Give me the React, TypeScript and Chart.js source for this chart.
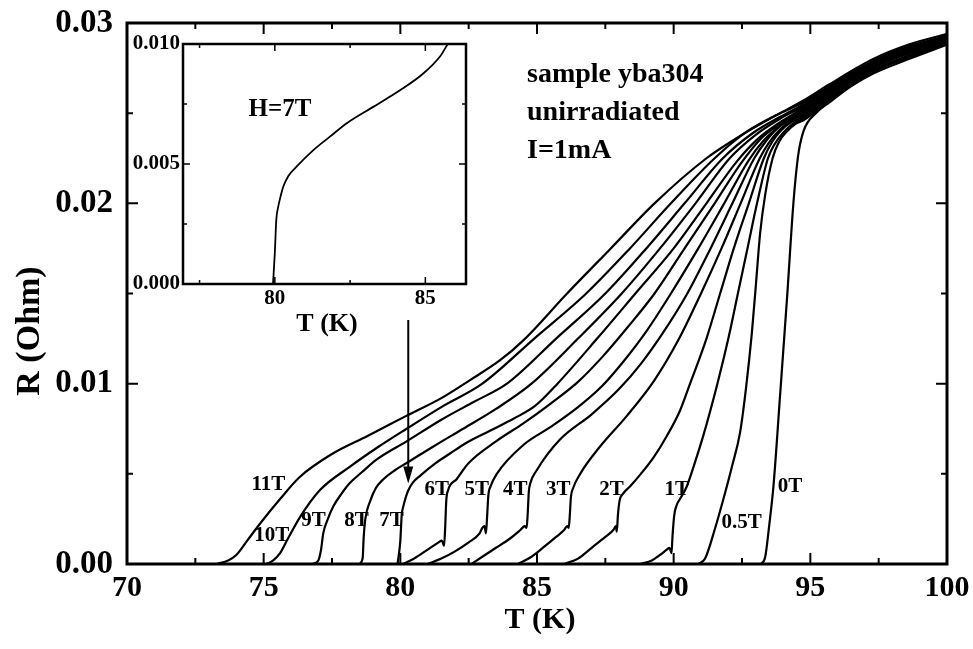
import React, { useEffect, useRef } from "react";
import { Chart, registerables } from "chart.js";

Chart.register(...registerables);

// ---------- axes ----------
const X_TICKS = [70, 75, 80, 85, 90, 95, 100];
const X_MINOR = [72.5, 77.5, 82.5, 87.5, 92.5, 97.5];
const Y_TICKS = [0, 0.01, 0.02, 0.03];
const Y_MINOR = [0.005, 0.015, 0.025];

const INSET_X_TICKS = [80, 85];
const INSET_X_MINOR = [77.5, 82.5];
const INSET_Y_TICKS = [0, 0.005, 0.01];
const INSET_Y_MINOR = [0.0025, 0.0075];

// ---------- curves: T (K) and R (Ohm) ----------
const T_11T = [73.3, 73.7, 74.0, 74.4, 74.9, 75.6, 76.3, 77.5, 78.8, 80.2, 81.5, 82.55, 83.65, 84.5, 86.1, 87.7, 89.3, 91.2, 92.5, 93.65, 94.75, 95.7, 97.3, 98.6, 100];
const R_11T = [0, 0.0002, 0.0005, 0.0013, 0.0023, 0.0036, 0.0048, 0.0061, 0.0071, 0.0082, 0.0092, 0.0102, 0.0113, 0.0124, 0.015, 0.0175, 0.02, 0.0225, 0.0238, 0.0248, 0.0257, 0.0266, 0.028, 0.0288, 0.0294];

const T_10T = [75.1, 75.35, 75.6, 75.85, 76.33, 77.06, 78.16, 79.2, 80.23, 81.5, 83.0, 84.9, 86.8, 88.4, 89.9, 91.5, 92.7, 93.9, 94.75, 95.7, 97.3, 98.6, 100];
const R_10T = [0, 0.0002, 0.0006, 0.0013, 0.0026, 0.0041, 0.0054, 0.0065, 0.0075, 0.0087, 0.01, 0.0125, 0.015, 0.0175, 0.02, 0.0225, 0.024, 0.025, 0.0256, 0.0265, 0.0279, 0.0287, 0.0293];

const T_9T = [76.8, 77.0, 77.1, 77.18, 77.35, 77.55, 77.85, 78.16, 78.6, 79.14, 80.23, 81.5, 82.7, 83.9, 85.7, 87.5, 89.0, 90.4, 91.8, 92.9, 93.9, 94.75, 95.7, 97.3, 98.6, 100];
const R_9T = [0, 0.0002, 0.0008, 0.0017, 0.0025, 0.0032, 0.0039, 0.0045, 0.0051, 0.0058, 0.0068, 0.008, 0.009, 0.01, 0.0125, 0.015, 0.0175, 0.02, 0.0225, 0.0239, 0.0248, 0.0255, 0.0265, 0.0278, 0.0286, 0.0293];

const T_8T = [78.5, 78.62, 78.66, 78.72, 78.9, 79.1, 79.38, 79.8, 80.23, 81.3, 82.3, 83.5, 84.8, 86.5, 88.1, 89.5, 90.8, 92.05, 93.0, 93.9, 94.75, 95.7, 97.3, 98.6, 100];
const R_8T = [0, 0.0003, 0.0015, 0.0025, 0.0035, 0.0042, 0.0047, 0.0052, 0.0056, 0.0066, 0.0075, 0.0086, 0.01, 0.0125, 0.015, 0.0175, 0.02, 0.0225, 0.0238, 0.0247, 0.0254, 0.0264, 0.0278, 0.0286, 0.0292];

const T_7T = [79.9, 80.0, 80.05, 80.11, 80.2, 80.28, 80.45, 80.72, 81.28, 81.83, 82.39, 83.28, 84.17, 84.94, 85.75, 87.2, 88.6, 90.0, 91.2, 92.3, 93.1, 93.9, 94.75, 95.7, 97.3, 98.6, 100];
const R_7T = [0, 0.0013, 0.0027, 0.0032, 0.0037, 0.00405, 0.0045, 0.00489, 0.00558, 0.00614, 0.0067, 0.00739, 0.00808, 0.00878, 0.01, 0.0125, 0.015, 0.0175, 0.02, 0.0223, 0.0236, 0.0245, 0.0253, 0.0264, 0.0277, 0.0285, 0.0292];

const T_6T = [80.1, 80.5, 81.0, 81.4, 81.52, 81.6, 81.64, 81.68, 81.75, 82.06, 82.5, 83.5, 84.5, 85.5, 86.5, 87.4, 88.3, 89.3, 90.4, 91.5, 92.5, 93.2, 93.9, 94.75, 95.7, 97.3, 98.6, 100];
const R_6T = [0, 0.0003, 0.0008, 0.0012, 0.0013, 0.001, 0.002, 0.0035, 0.0041, 0.0047, 0.0056, 0.0068, 0.0078, 0.0089, 0.0101, 0.0115, 0.0131, 0.015, 0.0175, 0.02, 0.0223, 0.0236, 0.0244, 0.0252, 0.0263, 0.0277, 0.0285, 0.0292];

const T_5T = [81.0, 81.5, 82.0, 82.5, 82.9, 83.0, 83.08, 83.13, 83.17, 83.22, 83.3, 83.53, 84.5, 85.5, 86.5, 87.4, 88.2, 89.0, 89.9, 90.9, 91.85, 92.75, 93.3, 93.9, 94.75, 95.7, 97.3, 98.6, 100];
const R_5T = [0, 0.0003, 0.0007, 0.0012, 0.0017, 0.002, 0.0021, 0.0017, 0.0025, 0.0038, 0.0043, 0.005, 0.0066, 0.0076, 0.0087, 0.0099, 0.0113, 0.0129, 0.015, 0.0175, 0.02, 0.0224, 0.0235, 0.0243, 0.0251, 0.0262, 0.0276, 0.0284, 0.0291];

const T_4T = [82.6, 83.0, 83.5, 84.0, 84.4, 84.55, 84.62, 84.66, 84.7, 84.76, 84.99, 85.84, 87.0, 88.0, 88.8, 89.6, 90.5, 91.35, 92.15, 92.95, 93.4, 93.9, 94.75, 95.7, 97.3, 98.6, 100];
const R_4T = [0, 0.0004, 0.0009, 0.0014, 0.0019, 0.0021, 0.002, 0.0028, 0.004, 0.0045, 0.0052, 0.0069, 0.0083, 0.0097, 0.0111, 0.0128, 0.015, 0.0175, 0.02, 0.0225, 0.0235, 0.0243, 0.025, 0.0261, 0.0276, 0.0284, 0.0291];

const T_3T = [84.3, 84.8, 85.3, 85.7, 86.0, 86.1, 86.16, 86.2, 86.24, 86.32, 86.58, 87.3, 88.28, 89.3, 90.2, 91.0, 91.75, 92.45, 93.15, 93.5, 93.9, 94.3, 94.75, 95.7, 97.3, 98.6, 100];
const R_3T = [0, 0.0004, 0.001, 0.0015, 0.0019, 0.0021, 0.002, 0.0027, 0.0037, 0.0042, 0.005, 0.0065, 0.0082, 0.0102, 0.0125, 0.015, 0.0175, 0.02, 0.0225, 0.0234, 0.0241, 0.0246, 0.0249, 0.026, 0.0275, 0.0283, 0.029];

const T_2T = [86.0, 86.5, 87.0, 87.5, 87.8, 87.88, 87.92, 87.96, 88.02, 88.15, 88.4, 88.8, 89.26, 89.75, 90.23, 90.6, 91.2, 91.7, 92.2, 92.75, 93.3, 93.6, 93.9, 94.3, 94.75, 95.7, 97.3, 98.6, 100];
const R_2T = [0, 0.0003, 0.0009, 0.0015, 0.0019, 0.0021, 0.0018, 0.0027, 0.0035, 0.0039, 0.0043, 0.005, 0.0059, 0.0071, 0.0085, 0.01, 0.0125, 0.015, 0.0175, 0.02, 0.0225, 0.0234, 0.024, 0.0245, 0.0248, 0.0259, 0.0274, 0.0282, 0.029];

const T_1T = [88.8, 89.2, 89.5, 89.75, 89.85, 89.92, 89.96, 90.02, 90.12, 90.23, 90.48, 90.75, 91.1, 91.6, 92.0, 92.35, 92.7, 93.05, 93.45, 93.7, 94.0, 94.35, 94.75, 95.7, 97.3, 98.6, 100];
const R_1T = [0, 0.0002, 0.0005, 0.0008, 0.0009, 0.0006, 0.0016, 0.0027, 0.0033, 0.0036, 0.0043, 0.0055, 0.0072, 0.01, 0.0125, 0.015, 0.0175, 0.02, 0.0225, 0.0233, 0.0239, 0.0244, 0.0247, 0.0258, 0.0274, 0.0281, 0.0289];

const T_05T = [90.9, 91.15, 91.5, 91.82, 92.15, 92.43, 92.65, 92.86, 93.02, 93.16, 93.35, 93.62, 93.85, 94.15, 94.45, 94.75, 95.7, 97.3, 98.6, 100];
const R_05T = [0, 0.0003, 0.0019, 0.0036, 0.0055, 0.0073, 0.0098, 0.0128, 0.0157, 0.0183, 0.0205, 0.0225, 0.0234, 0.024, 0.0244, 0.0246, 0.0257, 0.0273, 0.0281, 0.0289];

const T_0T = [93.2, 93.35, 93.5, 93.65, 93.9, 94.15, 94.38, 94.55, 94.75, 95.2, 95.7, 96.5, 97.3, 98.6, 100];
const R_0T = [0, 0.0004, 0.0022, 0.0043, 0.0095, 0.0148, 0.02, 0.0226, 0.024, 0.025, 0.0256, 0.0265, 0.0272, 0.028, 0.0288];

// ---------- curve labels ----------
const LABEL_TEXT = ["11T", "10T", "9T", "8T", "7T", "6T", "5T", "4T", "3T", "2T", "1T", "0.5T", "0T"];
const LABEL_T = [75.17, 75.3, 76.82, 78.4, 79.68, 81.33, 82.8, 84.2, 85.78, 87.73, 90.11, 92.49, 94.26];
const LABEL_R = [0.0044, 0.0016, 0.0024, 0.0024, 0.0024, 0.0041, 0.0041, 0.0041, 0.0041, 0.0041, 0.0041, 0.0023, 0.0043];

// ---------- arrow (points at the 7T curve) ----------
const ARROW_T = 80.29;
const ARROW_R = [0.01353, 0.00447];

// ---------- inset: H = 7T ----------
const INSET_T = [79.94, 80.0, 80.05, 80.11, 80.2, 80.28, 80.45, 80.72, 81.28, 81.83, 82.39, 83.28, 84.17, 84.94, 85.5, 85.75, 86.0];
const INSET_R = [0, 0.0013, 0.0027, 0.0032, 0.0037, 0.00405, 0.0045, 0.00489, 0.00558, 0.00614, 0.0067, 0.00739, 0.00808, 0.00878, 0.0095, 0.01, 0.0103];

const NOTE_LINES = ["sample yba304", "unirradiated", "I=1mA"];

const SERIF = '"Liberation Serif", "Times New Roman", Times, serif';

const CURVES: [number[], number[]][] = [
  [T_11T, R_11T], [T_10T, R_10T], [T_9T, R_9T], [T_8T, R_8T], [T_7T, R_7T],
  [T_6T, R_6T], [T_5T, R_5T], [T_4T, R_4T], [T_3T, R_3T], [T_2T, R_2T],
  [T_1T, R_1T], [T_05T, R_05T], [T_0T, R_0T],
];

function pts(t: number[], r: number[]) {
  return t.map((x, i) => ({ x, y: r[i] }));
}

function noPad(s: any) {
  s.paddingTop = 0;
  s.paddingBottom = 0;
  s.paddingLeft = 0;
  s.paddingRight = 0;
}

function framePlugin(id: string, o: any) {
  return {
    id,
    afterDraw(chart: any) {
      const { ctx, chartArea: a, scales } = chart;
      const x = scales.x, y = scales.y;
      ctx.save();
      ctx.strokeStyle = "#000";
      ctx.lineCap = "butt";
      ctx.lineWidth = o.tickW;
      const vt = (vals: number[], len: number) => {
        vals.forEach((v) => {
          const px = x.getPixelForValue(v);
          ctx.beginPath();
          ctx.moveTo(px, a.bottom); ctx.lineTo(px, a.bottom - len);
          ctx.moveTo(px, a.top); ctx.lineTo(px, a.top + len);
          ctx.stroke();
        });
      };
      const ht = (vals: number[], len: number) => {
        vals.forEach((v) => {
          const py = y.getPixelForValue(v);
          ctx.beginPath();
          ctx.moveTo(a.left, py); ctx.lineTo(a.left + len, py);
          ctx.moveTo(a.right, py); ctx.lineTo(a.right - len, py);
          ctx.stroke();
        });
      };
      vt(o.xMajor, o.major); vt(o.xMinor, o.minor);
      ht(o.yMajor, o.major); ht(o.yMinor, o.minor);
      ctx.lineWidth = o.frame;
      ctx.strokeRect(a.left, a.top, a.right - a.left, a.bottom - a.top);
      ctx.restore();
      if (o.extra) o.extra(chart);
    },
  };
}

function drawMainExtras(chart: any) {
  const { ctx, scales } = chart;
  const x = scales.x, y = scales.y;
  ctx.save();
  ctx.fillStyle = "#000";
  ctx.strokeStyle = "#000";
  // curve labels
  ctx.font = `bold 21px ${SERIF}`;
  ctx.textAlign = "center";
  ctx.textBaseline = "middle";
  LABEL_TEXT.forEach((s, i) => {
    ctx.fillText(s, x.getPixelForValue(LABEL_T[i]), y.getPixelForValue(LABEL_R[i]));
  });
  // arrow
  const ax = x.getPixelForValue(ARROW_T);
  const ay0 = y.getPixelForValue(ARROW_R[0]);
  const ay1 = y.getPixelForValue(ARROW_R[1]);
  ctx.lineWidth = 2;
  ctx.beginPath();
  ctx.moveTo(ax, ay0);
  ctx.lineTo(ax, ay1 - 12);
  ctx.stroke();
  ctx.beginPath();
  ctx.moveTo(ax, ay1);
  ctx.lineTo(ax - 5, ay1 - 17);
  ctx.lineTo(ax + 5, ay1 - 17);
  ctx.closePath();
  ctx.fill();
  // notes
  ctx.font = `bold 28px ${SERIF}`;
  ctx.textAlign = "left";
  NOTE_LINES.forEach((s, i) => ctx.fillText(s, 527, 75 + i * 38));
  // axis titles
  ctx.textAlign = "center";
  ctx.font = `bold 30px ${SERIF}`;
  ctx.fillText("T (K)", 540, 620);
  ctx.font = `bold 34px ${SERIF}`;
  ctx.translate(30, 331);
  ctx.rotate(-Math.PI / 2);
  ctx.fillText("R (Ohm)", 0, 0);
  ctx.restore();
}

function drawInsetExtras(chart: any) {
  const { ctx } = chart;
  ctx.save();
  ctx.fillStyle = "#000";
  ctx.textAlign = "center";
  ctx.textBaseline = "middle";
  ctx.font = `bold 25px ${SERIF}`;
  ctx.fillText("H=7T", 280, 110);
  ctx.font = `bold 26px ${SERIF}`;
  ctx.fillText("T (K)", 327, 324);
  ctx.restore();
}

export default function App() {
  const mainRef = useRef<HTMLCanvasElement>(null);
  const insetRef = useRef<HTMLCanvasElement>(null);

  useEffect(() => {
    document.body.style.margin = "0";
    const xFont = { family: SERIF, size: 30, weight: "bold" as const };
    const yFont = { family: SERIF, size: 33, weight: "bold" as const };
    const main = new Chart(mainRef.current!, {
      type: "line",
      data: {
        datasets: CURVES.map(([t, r]) => ({
          data: pts(t, r),
          borderColor: "#000",
          borderWidth: 2.2,
          pointRadius: 0,
          fill: false,
          cubicInterpolationMode: "monotone" as const,
        })),
      },
      options: {
        responsive: false,
        animation: false,
        devicePixelRatio: 1,
        events: [],
        layout: { padding: { left: 0, top: 23, right: 26, bottom: 0 } },
        plugins: { legend: { display: false }, tooltip: { enabled: false } },
        scales: {
          x: {
            type: "linear",
            min: 70,
            max: 100,
            grid: { display: false, drawTicks: false },
            border: { display: false },
            ticks: { font: xFont, color: "#000", padding: 6, maxRotation: 0 },
            afterBuildTicks: (s: any) => { s.ticks = X_TICKS.map((v) => ({ value: v })); },
            afterFit: (s: any) => { s.height = 85; noPad(s); },
          },
          y: {
            type: "linear",
            min: 0,
            max: 0.03,
            grid: { display: false, drawTicks: false },
            border: { display: false },
            ticks: { font: yFont, color: "#000", padding: 14, callback: (v: any) => Number(v).toFixed(2) },
            afterBuildTicks: (s: any) => { s.ticks = Y_TICKS.map((v) => ({ value: v })); },
            afterFit: (s: any) => { s.width = 127; noPad(s); },
          },
        },
      },
      plugins: [
        framePlugin("mainFrame", {
          xMajor: X_TICKS, xMinor: X_MINOR, yMajor: Y_TICKS, yMinor: Y_MINOR,
          major: 11, minor: 6, tickW: 2, frame: 3, extra: drawMainExtras,
        }),
      ],
    } as any);

    const insetFont = { family: SERIF, size: 21, weight: "bold" as const };
    const inset = new Chart(insetRef.current!, {
      type: "line",
      data: {
        datasets: [
          {
            data: pts(INSET_T, INSET_R),
            borderColor: "#000",
            borderWidth: 1.8,
            pointRadius: 0,
            fill: false,
            cubicInterpolationMode: "monotone" as const,
          },
        ],
      },
      options: {
        responsive: false,
        animation: false,
        devicePixelRatio: 1,
        events: [],
        layout: { padding: { left: 83, top: 44, right: 507, bottom: 305 } },
        plugins: { legend: { display: false }, tooltip: { enabled: false } },
        scales: {
          x: {
            type: "linear",
            min: 76.95,
            max: 86.35,
            grid: { display: false, drawTicks: false },
            border: { display: false },
            ticks: { font: insetFont, color: "#000", padding: 2, maxRotation: 0 },
            afterBuildTicks: (s: any) => { s.ticks = INSET_X_TICKS.map((v) => ({ value: v })); },
            afterFit: (s: any) => { s.height = 60; noPad(s); },
          },
          y: {
            type: "linear",
            min: 0,
            max: 0.01,
            grid: { display: false, drawTicks: false },
            border: { display: false },
            ticks: { font: insetFont, color: "#000", padding: 3, callback: (v: any) => Number(v).toFixed(3) },
            afterBuildTicks: (s: any) => { s.ticks = INSET_Y_TICKS.map((v) => ({ value: v })); },
            afterFit: (s: any) => { s.width = 100; noPad(s); },
          },
        },
      },
      plugins: [
        framePlugin("insetFrame", {
          xMajor: INSET_X_TICKS, xMinor: INSET_X_MINOR, yMajor: INSET_Y_TICKS, yMinor: INSET_Y_MINOR,
          major: 7, minor: 4, tickW: 1.5, frame: 2.5, extra: drawInsetExtras,
        }),
      ],
    } as any);

    return () => {
      main.destroy();
      inset.destroy();
    };
  }, []);

  return (
    <div style={{ position: "relative", width: 973, height: 649, background: "#fff" }}>
      <canvas ref={mainRef} width={973} height={649} style={{ position: "absolute", left: 0, top: 0 }} />
      <canvas ref={insetRef} width={973} height={649} style={{ position: "absolute", left: 0, top: 0, pointerEvents: "none" }} />
    </div>
  );
}
